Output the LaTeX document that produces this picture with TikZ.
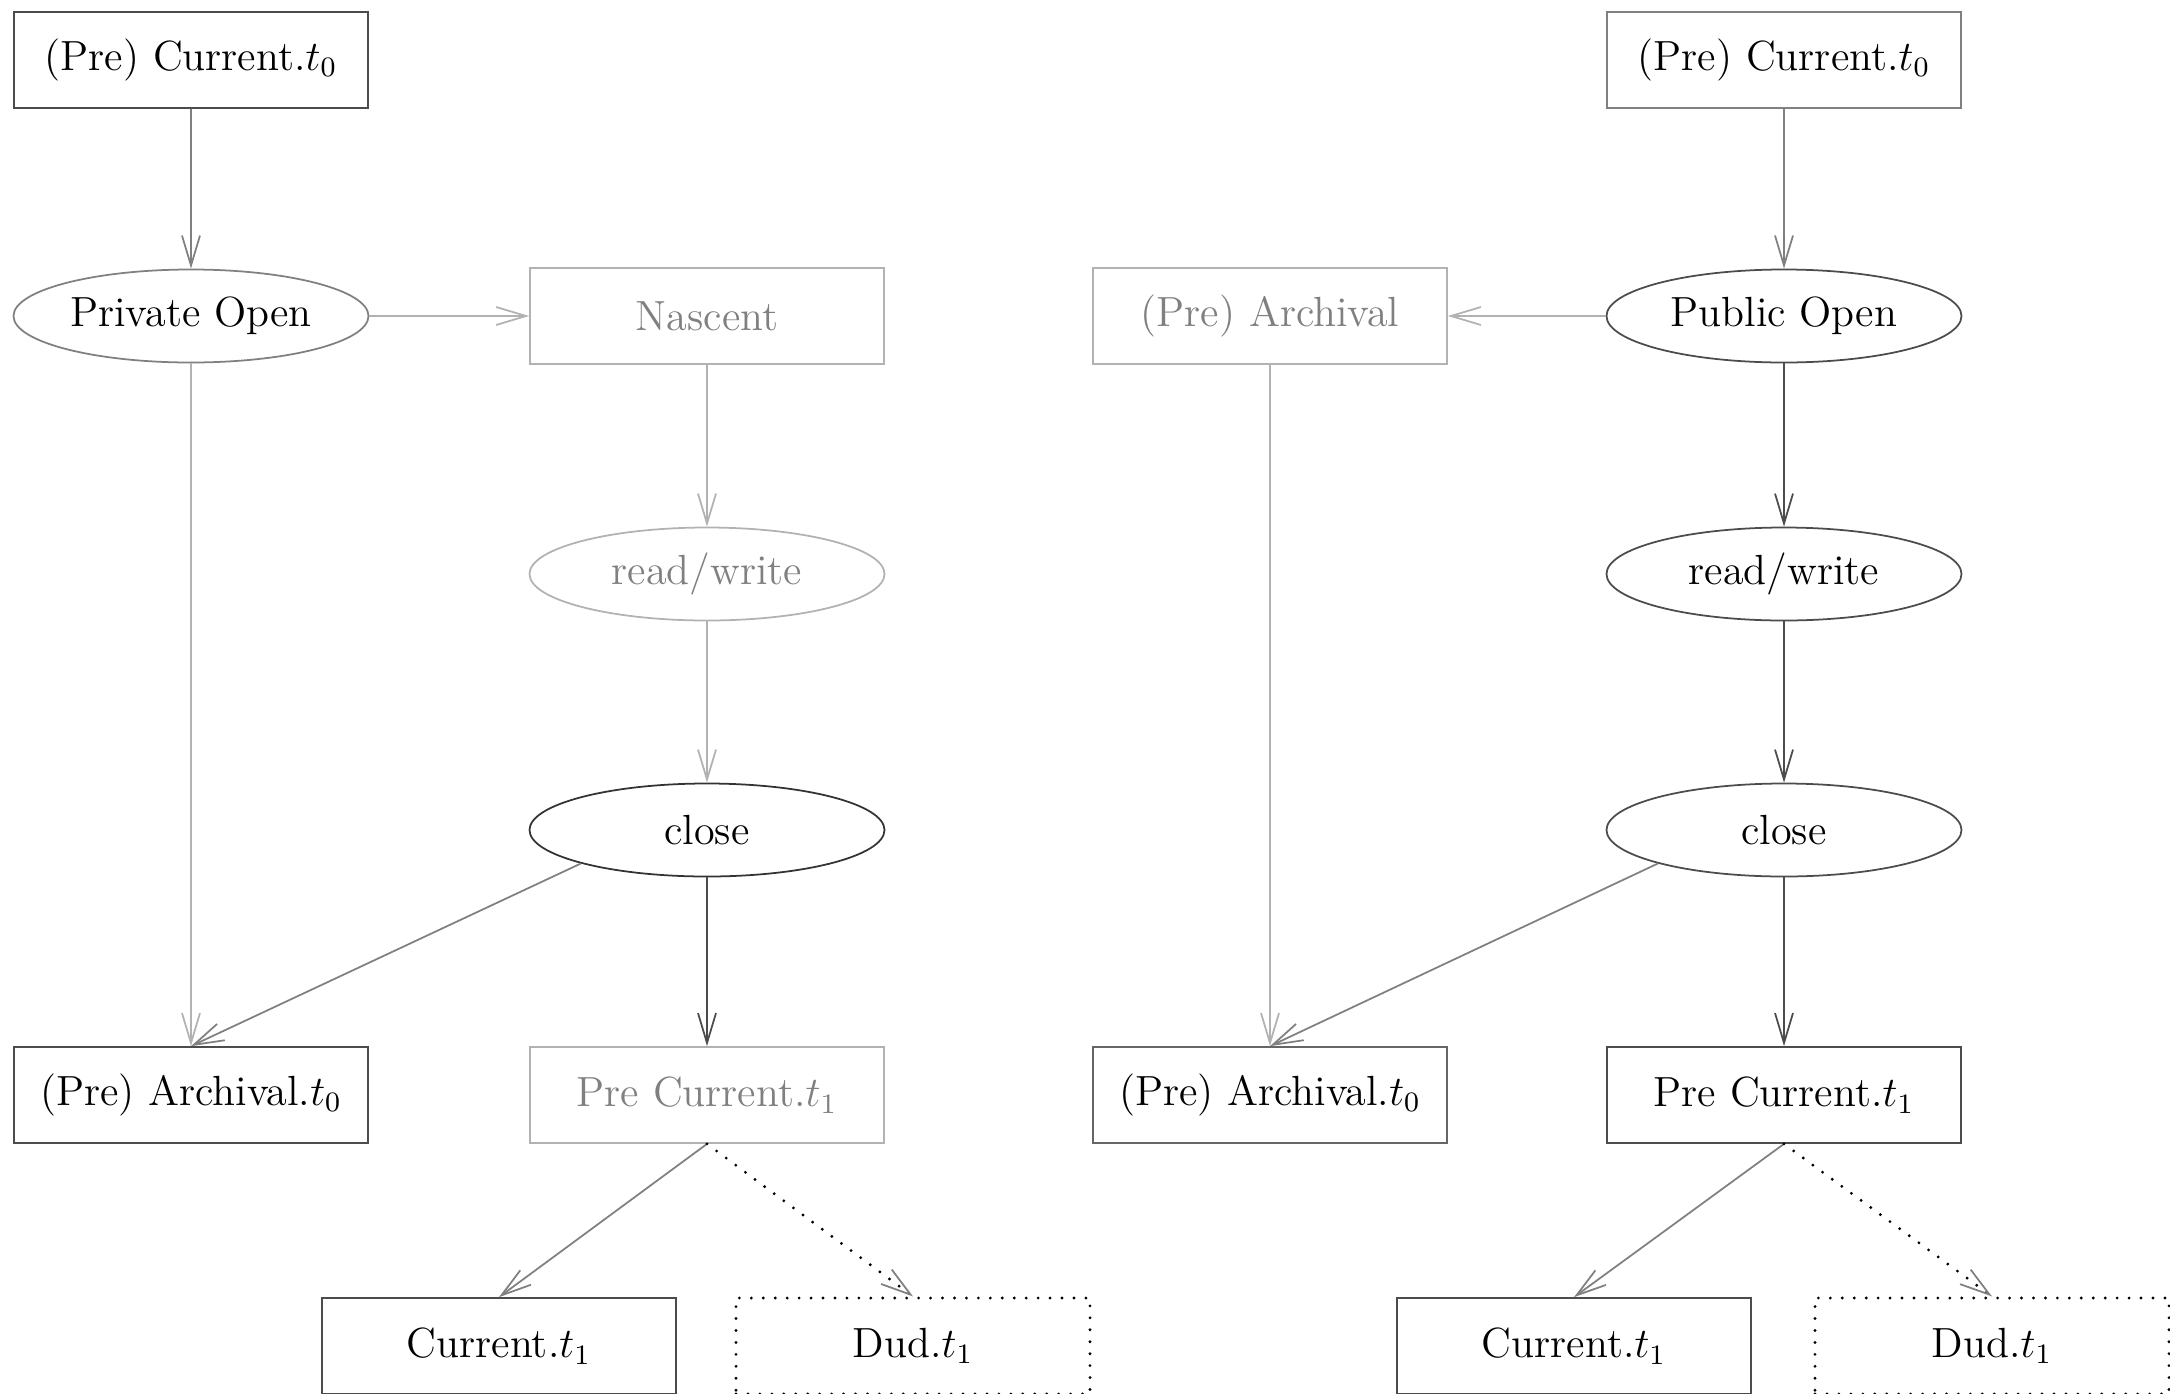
\documentclass[tikz,border=0pt]{standalone}
\usepackage{amsmath,amssymb}
\usepackage{xcolor}
\usepackage{tikz}
\usetikzlibrary{shapes,shapes.geometric,arrows.meta,positioning,calc}

\begin{document}
\begin{tikzpicture}[
    statebox/.style={rectangle, draw=black!70, line width=0.5pt, minimum width=3.54cm, minimum height=0.96cm, align=center, font=\large},
    opnode/.style={ellipse, draw=black!70, line width=0.5pt, minimum width=3.55cm, minimum height=0.93cm, inner sep=1pt, align=center, font=\large},
    sparsedots/.style={line width=0.9pt, line cap=round, dash pattern=on 0pt off 3.4pt},
    dudbox/.style={statebox, draw=black, sparsedots},
    faded/.style={draw=black!30, text=black!50},
    arrow/.style={-{Straight Barb[length=3mm, width=1.8mm]}, line width=0.5pt},
    light/.style={arrow, black!30},
    mid/.style={arrow, black!50},
    dark/.style={arrow, black!70},
    dudarrow/.style={-{Straight Barb[length=3mm, width=1.8mm, black!50, line width=0.5pt]}, sparsedots}
]
    \useasboundingbox (0,0) rectangle (21.7,-13.94);

    % Left side: private open
    \node[statebox] (curL) at (1.91,-0.60) {(Pre) Current.$t_0$};
    \node[opnode, draw=black!50] (privOpen) at (1.91,-3.16) {Private Open};
    \node[statebox, faded] (nascent) at (7.07,-3.16) {Nascent};
    \node[opnode, faded] (rwL) at (7.07,-5.74) {read/write};
    \node[opnode, draw=black!80] (closeL) at (7.07,-8.30) {close};
    \node[statebox] (archL) at (1.91,-10.95) {(Pre) Archival.$t_0$};
    \node[statebox, faded] (preCurL) at (7.07,-10.95) {Pre Current.$t_1$};
    \node[statebox] (curTL) at (4.99,-13.46) {Current.$t_1$};
    \node[dudbox] (dudL) at (9.13,-13.46) {Dud.$t_1$};

    \draw[mid] (curL.south) -- (privOpen.north);
    \draw[light] (privOpen.east) -- (nascent.west);
    \draw[light] (privOpen.south) -- (archL.north);
    \draw[light] (nascent.south) -- (rwL.north);
    \draw[light] (rwL.south) -- (closeL.north);
    \draw[mid] (closeL.south west) -- (archL.north);
    \draw[dark] (closeL.south) -- (preCurL.north);
    \draw[mid] (preCurL.south) -- (curTL.north);
    \draw[dudarrow] (preCurL.south) -- (dudL.north);

    % Right side: public open
    \node[statebox, draw=black!50] (curR) at (17.84,-0.60) {(Pre) Current.$t_0$};
    \node[opnode] (pubOpen) at (17.84,-3.16) {Public Open};
    \node[statebox, faded] (archR) at (12.70,-3.16) {(Pre) Archival};
    \node[opnode] (rwR) at (17.84,-5.74) {read/write};
    \node[opnode] (closeR) at (17.84,-8.30) {close};
    \node[statebox, draw=black!60] (archTR) at (12.70,-10.95) {(Pre) Archival.$t_0$};
    \node[statebox] (preCurR) at (17.84,-10.95) {Pre Current.$t_1$};
    \node[statebox] (curTR) at (15.74,-13.46) {Current.$t_1$};
    \node[dudbox] (dudR) at (19.92,-13.46) {Dud.$t_1$};

    \draw[mid] (curR.south) -- (pubOpen.north);
    \draw[light] (pubOpen.west) -- (archR.east);
    \draw[light] (archR.south) -- (archTR.north);
    \draw[dark] (pubOpen.south) -- (rwR.north);
    \draw[dark] (rwR.south) -- (closeR.north);
    \draw[mid] (closeR.south west) -- (archTR.north);
    \draw[dark] (closeR.south) -- (preCurR.north);
    \draw[mid] (preCurR.south) -- (curTR.north);
    \draw[dudarrow] (preCurR.south) -- (dudR.north);
\end{tikzpicture}
\end{document}
